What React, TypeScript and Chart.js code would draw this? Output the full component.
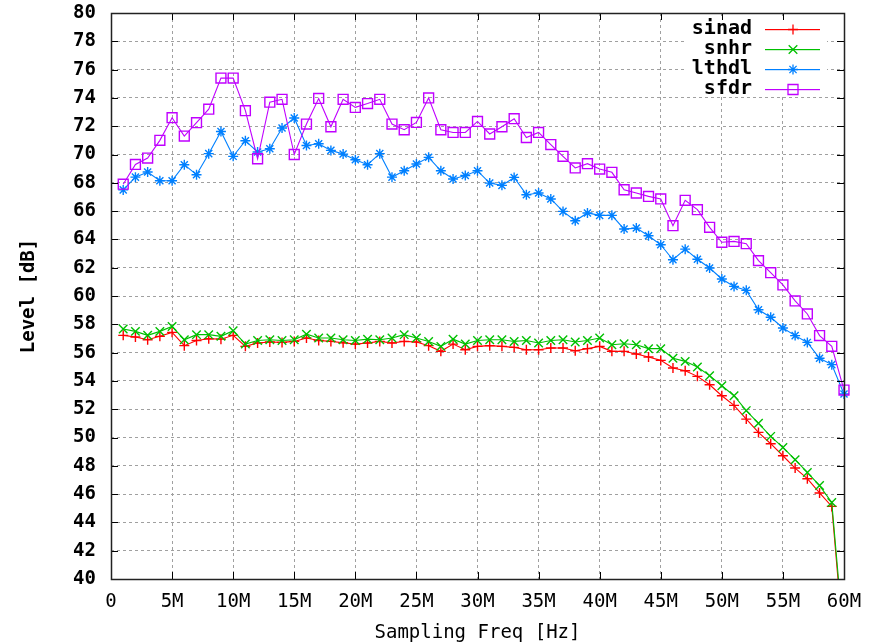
import React, { useEffect, useRef } from "react";
import { Chart, registerables } from "chart.js";

Chart.register(...registerables);

const freqM = [
  1, 2, 3, 4, 5, 6, 7, 8, 9, 10, 11, 12, 13, 14, 15, 16, 17, 18, 19, 20,
  21, 22, 23, 24, 25, 26, 27, 28, 29, 30, 31, 32, 33, 34, 35, 36, 37, 38, 39, 40,
  41, 42, 43, 44, 45, 46, 47, 48, 49, 50, 51, 52, 53, 54, 55, 56, 57, 58, 59, 60,
];

const sinad = [
  57.22, 57.1, 56.91, 57.15, 57.43, 56.49, 56.86, 56.98, 56.95, 57.22,
  56.44, 56.68, 56.75, 56.72, 56.79, 57.03, 56.86, 56.79, 56.7, 56.6,
  56.68, 56.79, 56.68, 56.79, 56.75, 56.49, 56.09, 56.6, 56.2, 56.44,
  56.49, 56.44, 56.37, 56.2, 56.2, 56.32, 56.32, 56.13, 56.28, 56.44,
  56.09, 56.09, 55.9, 55.69, 55.45, 54.91, 54.72, 54.32, 53.73, 52.95,
  52.27, 51.3, 50.36, 49.56, 48.71, 47.84, 47.09, 46.08, 45.13, 35.0,
];

const snhr = [
  57.67, 57.5, 57.22, 57.5, 57.85, 56.91, 57.27, 57.27, 57.15, 57.55,
  56.6, 56.86, 56.91, 56.86, 56.91, 57.3, 57.03, 57.03, 56.91, 56.86,
  56.95, 56.91, 57.03, 57.27, 57.03, 56.79, 56.44, 56.95, 56.6, 56.86,
  56.91, 56.91, 56.79, 56.86, 56.68, 56.86, 56.91, 56.75, 56.86, 57.03,
  56.56, 56.63, 56.56, 56.28, 56.28, 55.6, 55.38, 54.98, 54.37, 53.66,
  52.95, 51.9, 51.0, 50.08, 49.3, 48.43, 47.53, 46.6, 45.41, 35.5,
];

const lthdl = [
  67.5, 68.4, 68.76, 68.15, 68.15, 69.28, 68.57, 70.06, 71.63, 69.87,
  70.97, 70.18, 70.41, 71.87, 72.58, 70.64, 70.76, 70.29, 70.03, 69.63,
  69.28, 70.06, 68.4, 68.85, 69.33, 69.8, 68.85, 68.27, 68.52, 68.85,
  67.98, 67.82, 68.38, 67.16, 67.28, 66.86, 65.98, 65.32, 65.87, 65.7,
  65.7, 64.73, 64.8, 64.26, 63.62, 62.56, 63.31, 62.6, 61.98, 61.2,
  60.68, 60.4, 59.03, 58.5, 57.74, 57.2, 56.72, 55.6, 55.15, 53.07,
];

const sfdr = [
  67.9, 69.3, 69.75, 71.0, 72.6, 71.3, 72.25, 73.2, 75.4, 75.4,
  73.1, 69.7, 73.7, 73.9, 70.0, 72.15, 73.96, 71.96, 73.9, 73.33,
  73.6, 73.9, 72.15, 71.75, 72.27, 74.0, 71.75, 71.56, 71.56, 72.34,
  71.45, 71.96, 72.53, 71.2, 71.56, 70.7, 69.87, 69.05, 69.35, 68.97,
  68.74, 67.51, 67.28, 67.04, 66.86, 64.97, 66.76, 66.1, 64.85, 63.8,
  63.86, 63.7, 62.5, 61.65, 60.78, 59.65, 58.73, 57.2, 56.44, 53.35,
];

const seriesNames = ["sinad", "snhr", "lthdl", "sfdr"];
const seriesColors = ["#ff0000", "#00c000", "#0080ff", "#c000ff"];
const seriesMarkers = ["cross", "crossRot", "star", "rect"];

const xTickStep = 5;
const yTickStep = 2;

const MONO = "'DejaVu Sans Mono', monospace";

function drawMarker(ctx: CanvasRenderingContext2D, kind: string, x: number, y: number, color: string) {
  ctx.save();
  ctx.setLineDash([]);
  ctx.strokeStyle = color;
  ctx.lineWidth = 1.3;
  ctx.beginPath();
  if (kind === "cross" || kind === "star") {
    ctx.moveTo(x - 5, y); ctx.lineTo(x + 5, y);
    ctx.moveTo(x, y - 5); ctx.lineTo(x, y + 5);
  }
  if (kind === "crossRot" || kind === "star") {
    const d = kind === "star" ? 3.6 : 4.3;
    ctx.moveTo(x - d, y - d); ctx.lineTo(x + d, y + d);
    ctx.moveTo(x - d, y + d); ctx.lineTo(x + d, y - d);
  }
  if (kind === "rect") {
    ctx.rect(x - 5, y - 5, 10, 10);
  }
  ctx.stroke();
  ctx.restore();
}

const framePlugin = {
  id: "gnuFrame",
  beforeDatasetsDraw(chart: any) {
    const { ctx, chartArea: a } = chart;
    ctx.save();
    ctx.fillStyle = "#ffffff";
    ctx.fillRect(a.right - 157, a.top + 5, 140, 79);
    ctx.restore();
  },
  afterDatasetsDraw(chart: any) {
    const { ctx, chartArea: a, scales } = chart;
    ctx.save();
    ctx.setLineDash([]);
    ctx.strokeStyle = "#000";
    ctx.lineWidth = 1;
    ctx.beginPath();
    const tl = 7;
    scales.x.ticks.forEach((t: any) => {
      const px = Math.round(scales.x.getPixelForValue(t.value)) + 0.5;
      ctx.moveTo(px, a.bottom); ctx.lineTo(px, a.bottom - tl);
      ctx.moveTo(px, a.top); ctx.lineTo(px, a.top + tl);
    });
    scales.y.ticks.forEach((t: any) => {
      const py = Math.round(scales.y.getPixelForValue(t.value)) + 0.5;
      ctx.moveTo(a.left, py); ctx.lineTo(a.left + tl, py);
      ctx.moveTo(a.right, py); ctx.lineTo(a.right - tl, py);
    });
    ctx.stroke();
    ctx.lineWidth = 1.5;
    ctx.strokeStyle = "#222";
    ctx.strokeRect(Math.round(a.left) + 0.5, Math.round(a.top) + 0.5, Math.round(a.right - a.left), Math.round(a.bottom - a.top));

    // legend
    ctx.font = `bold 20px ${MONO}`;
    ctx.textAlign = "right";
    ctx.textBaseline = "middle";
    seriesNames.forEach((name, i) => {
      const y = Math.round(a.top + 16 + i * 20);
      ctx.fillStyle = "#000";
      ctx.fillText(name, a.right - 92, y);
      ctx.fillStyle = seriesColors[i];
      ctx.fillRect(a.right - 79, y, 55, 1.2);
      drawMarker(ctx, seriesMarkers[i], a.right - 51, y + 0.5, seriesColors[i]);
    });
    ctx.restore();
  },
};

export default function App() {
  const ref = useRef<HTMLCanvasElement>(null);

  useEffect(() => {
    if (!ref.current) return;
    const allSeries = [sinad, snhr, lthdl, sfdr];
    const chart = new Chart(ref.current, {
      type: "line",
      data: {
        datasets: allSeries.map((vals, i) => ({
          label: seriesNames[i],
          data: freqM.map((f, j) => ({ x: f, y: vals[j] })),
          borderColor: seriesColors[i],
          backgroundColor: "rgba(0,0,0,0)",
          borderWidth: 1.1,
          pointStyle: seriesMarkers[i] as any,
          pointRadius: seriesMarkers[i] === "rect" ? 7 : seriesMarkers[i] === "crossRot" ? 6 : 5,
          pointBorderWidth: 1.4,
          pointBorderColor: seriesColors[i],
          pointBackgroundColor: "rgba(0,0,0,0)",
          tension: 0,
          order: 4 - i,
          clip: i < 2 ? 1 : false,
        })) as any,
      },
      options: {
        responsive: false,
        animation: false,
        events: [],
        layout: { padding: { top: 13, right: 35, left: 0, bottom: 0 } },
        plugins: {
          legend: { display: false },
          tooltip: { enabled: false },
        },
        scales: {
          x: {
            type: "linear",
            min: 0,
            max: 60,
            afterFit: (s: any) => { s.height = 65; },
            border: { display: false, dash: [3, 3] } as any,
            grid: {
              color: "#a0a0a0",
              lineWidth: 1,
              drawTicks: false,
            },
            ticks: {
              stepSize: xTickStep,
              padding: 12,
              color: "#000",
              font: { family: MONO, size: 19 },
              maxRotation: 0,
              callback: (v: any) => (v === 0 ? "0" : `${v}M`),
            },
            title: {
              display: true,
              text: "Sampling Freq [Hz]",
              color: "#000",
              font: { family: MONO, size: 19 },
              padding: { top: 0, bottom: 0 },
            },
          },
          y: {
            type: "linear",
            min: 40,
            max: 80,
            afterFit: (s: any) => {
              s.width = 111;
              s.paddingTop = 0;
              s.paddingBottom = 0;
            },
            border: { display: false, dash: [3, 3] } as any,
            grid: {
              color: "#a0a0a0",
              lineWidth: 1,
              drawTicks: false,
            },
            ticks: {
              stepSize: yTickStep,
              padding: 15,
              color: "#000",
              font: { family: MONO, size: 19, weight: "bold" },
            },
            title: {
              display: true,
              text: "Level [dB]",
              color: "#000",
              font: { family: MONO, size: 19, weight: "bold" },
              padding: { top: 18, bottom: 0 },
            },
          },
        },
      },
      plugins: [framePlugin],
    });
    return () => chart.destroy();
  }, []);

  return (
    <div style={{ position: "absolute", left: 0, top: 0, width: 879, height: 644, background: "#fff" }}>
      <canvas ref={ref} width={879} height={644} style={{ display: "block" }} />
    </div>
  );
}
